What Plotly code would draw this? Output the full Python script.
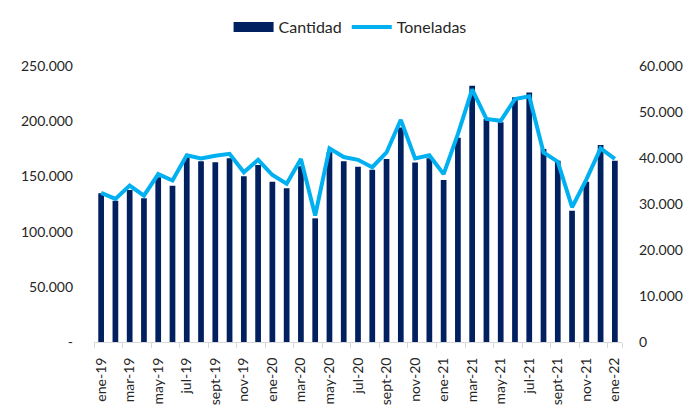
import plotly.graph_objects as go

months = [
    "ene-19", "feb-19", "mar-19", "abr-19", "may-19", "jun-19", "jul-19", "ago-19", "sept-19", "oct-19", "nov-19", "dic-19",
    "ene-20", "feb-20", "mar-20", "abr-20", "may-20", "jun-20", "jul-20", "ago-20", "sept-20", "oct-20", "nov-20", "dic-20",
    "ene-21", "feb-21", "mar-21", "abr-21", "may-21", "jun-21", "jul-21", "ago-21", "sept-21", "oct-21", "nov-21", "dic-21",
    "ene-22",
]

cantidad = [
    134700, 128000, 137700, 130200, 149200, 141600, 167300, 163700, 162800, 166400, 150100, 160300,
    145200, 139200, 159100, 112000, 171800, 163700, 158800, 156100, 165800, 194400, 162700, 166400,
    146700, 185100, 232200, 202000, 199000, 221600, 226100, 174800, 164200, 118900, 145200, 178400,
    164200,
]

toneladas = [
    32400, 31100, 34000, 31800, 36500, 35100, 40600, 39900, 40500, 40900, 36900, 39600,
    36300, 34400, 39800, 27500, 42100, 40200, 39600, 38000, 41200, 48300, 39900, 40600,
    36500, 45200, 54900, 48500, 48100, 52800, 53400, 41200, 39200, 29300, 35300, 42100,
    39800,
]

left_ticks = [0, 50000, 100000, 150000, 200000, 250000]
left_labels = ["-", "50.000", "100.000", "150.000", "200.000", "250.000"]
right_ticks = [0, 10000, 20000, 30000, 40000, 50000, 60000]
right_labels = ["0", "10.000", "20.000", "30.000", "40.000", "50.000", "60.000"]

font_family = "Lato, 'Open Sans', sans-serif"
text_color = "#262626"
bar_color = "#002060"
line_color = "#00B0F0"

fig = go.Figure()
fig.add_trace(go.Bar(
    x=months, y=cantidad, name="Cantidad",
    marker=dict(color=bar_color, line=dict(width=0)),
    yaxis="y", showlegend=False,
))
# legend-only entry giving the wide rectangular swatch of the original
fig.add_trace(go.Scatter(
    x=[None], y=[None], name="Cantidad", mode="lines",
    line=dict(color=bar_color, width=12), yaxis="y",
))
fig.add_trace(go.Scatter(
    x=months, y=toneladas, name="Toneladas", mode="lines",
    line=dict(color=line_color, width=4),
    yaxis="y2",
))

fig.update_layout(
    width=700, height=420,
    margin=dict(l=86, r=86, t=58, b=86, autoexpand=False),
    paper_bgcolor="white", plot_bgcolor="white",
    font=dict(family=font_family, size=14, color=text_color),
    bargap=0.6,
    showlegend=True,
    legend=dict(
        orientation="h", x=0.485, xanchor="center", y=1.141, yanchor="middle",
        font=dict(size=16, color=text_color), traceorder="normal",
        itemwidth=40,
    ),
    xaxis=dict(
        type="category",
        tickmode="array", tickvals=months[::2], ticktext=months[::2],
        tickangle=-90, tickson="boundaries",
        ticks="outside", ticklen=5, tickcolor="#d9d9d9",
        showline=True, linecolor="#d9d9d9", linewidth=1,
        showgrid=False, tickfont=dict(size=14),
        ticklabelstandoff=9,
        range=[-0.5, len(months) - 0.5],
    ),
    yaxis=dict(
        range=[0, 250000], tickmode="array", tickvals=left_ticks, ticktext=left_labels,
        showgrid=False, zeroline=False, showline=False, ticks="",
        ticklabelstandoff=20,
    ),
    yaxis2=dict(
        range=[0, 60000], tickmode="array", tickvals=right_ticks, ticktext=right_labels,
        overlaying="y", side="right",
        showgrid=False, zeroline=False, showline=False, ticks="",
        ticklabelstandoff=16,
    ),
)

fig.write_html("out.html")
